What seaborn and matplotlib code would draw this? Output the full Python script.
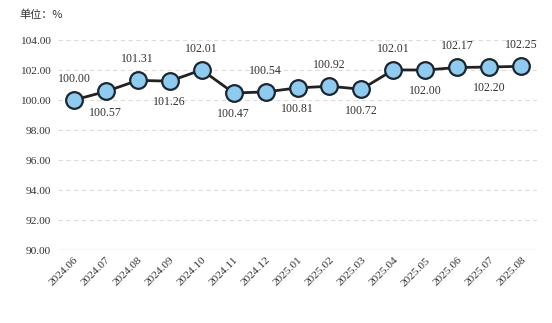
import matplotlib
matplotlib.use("Agg")
import matplotlib.pyplot as plt
import seaborn as sns
import pandas as pd

months = ["2024.06", "2024.07", "2024.08", "2024.09", "2024.10", "2024.11", "2024.12",
          "2025.01", "2025.02", "2025.03", "2025.04", "2025.05", "2025.06", "2025.07", "2025.08"]
values = [100.00, 100.57, 101.31, 101.26, 102.01, 100.47, 100.54,
          100.81, 100.92, 100.72, 102.01, 102.00, 102.17, 102.20, 102.25]
yticks = [90, 92, 94, 96, 98, 100, 102, 104]

sns.set_theme(style="white")
plt.rcParams['font.family'] = ['Liberation Serif', 'Noto Sans CJK SC', 'DejaVu Sans']

df = pd.DataFrame({"month": months, "value": values})
df["x"] = range(len(months))

fig = plt.figure(figsize=(5.52, 3.23), dpi=100)
ax = fig.add_axes([0.105, 0.226, 0.868, 0.65])

sns.lineplot(data=df, x="x", y="value", ax=ax, color="#222222", linewidth=2,
             marker="o", markersize=12, markerfacecolor="#8ecbee",
             markeredgecolor="#1c2530", markeredgewidth=1.6, clip_on=False, zorder=5)

ax.set_xlim(-0.5, len(months) - 0.5)
ax.set_ylim(90, 104)
ax.set_yticks(yticks)
ax.set_yticklabels([f"{v:.2f}" for v in yticks], fontsize=8.2, color="#333333")
ax.set_xticks(df["x"])
ax.set_xticklabels(months, rotation=45, ha="right", rotation_mode="anchor",
                   fontsize=8.2, color="#333333")
ax.tick_params(axis="y", length=0, pad=5)
ax.tick_params(axis="x", length=0, pad=4)
ax.set_xlabel("")
ax.set_ylabel("")

for v in yticks[1:]:
    ax.axhline(v, color="#dcdcdc", linewidth=0.8, linestyle=(0, (4, 3)), zorder=0)
ax.axhline(90, color="#d6d6d6", linewidth=1.0, zorder=0)

for s in ax.spines.values():
    s.set_visible(False)

for i, (xv, yv) in enumerate(zip(df["x"], df["value"])):
    if i % 2 == 0:
        ax.annotate(f"{yv:.2f}", (xv, yv), xytext=(0, 11), textcoords="offset points",
                    ha="center", va="bottom", fontsize=8.6, color="#333333")
    else:
        ax.annotate(f"{yv:.2f}", (xv, yv), xytext=(0, -11), textcoords="offset points",
                    ha="center", va="top", fontsize=8.6, color="#333333")

fig.text(0.036, 0.953, "单位：%", fontsize=8, color="#333333", va="center",
         family=['Noto Sans CJK SC', 'DejaVu Sans'])

fig.savefig("out.png", dpi=100, facecolor="white")
